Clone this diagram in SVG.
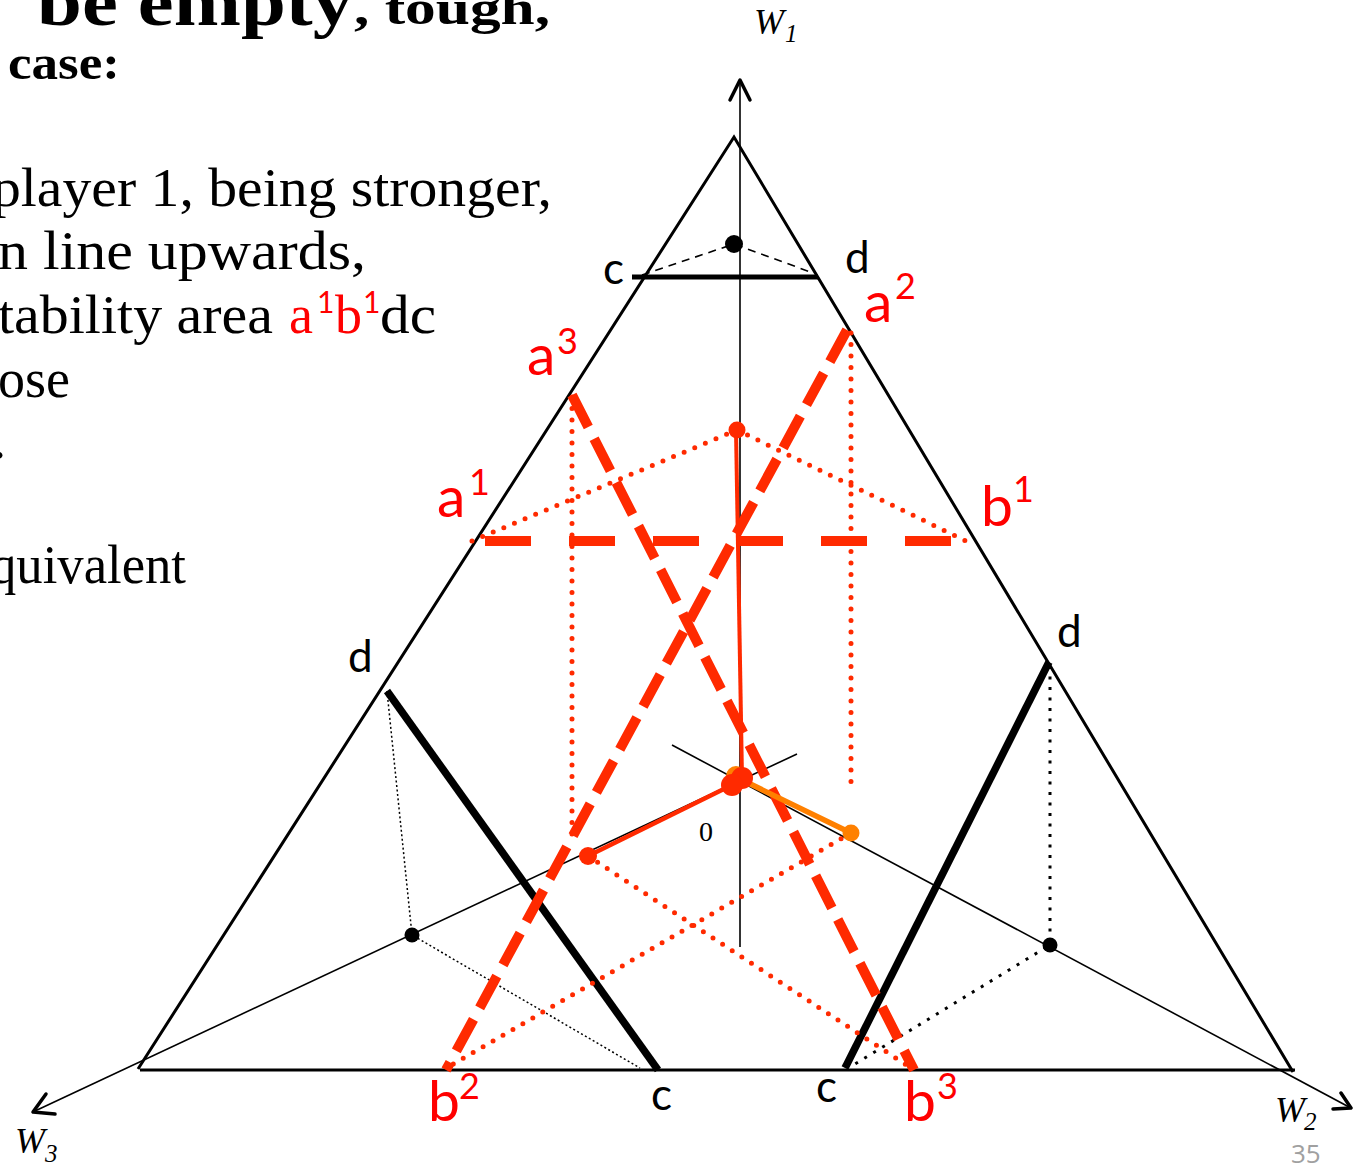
<svg xmlns="http://www.w3.org/2000/svg" width="1353" height="1165" viewBox="0 0 1353 1165">
<style>
.serif{font-family:"Liberation Serif","Times New Roman",serif;fill:#000}
.lbl{font-family:Lato,"Open Sans",sans-serif;font-size:44px;fill:#000}
.rl{font-family:Lato,"Open Sans",sans-serif;font-size:57px;fill:#ff0000}
.rs{font-family:Lato,"Open Sans",sans-serif;font-size:36px;fill:#ff0000}
.ax{font-family:"Liberation Serif","Times New Roman",serif;font-style:italic;fill:#000}
.thin{stroke:#000;stroke-width:1.6;fill:none}
.edge{stroke:#000;stroke-width:3;fill:none}
.thick{stroke:#000;stroke-width:7.5;fill:none}
.rdash{stroke:#ff2a00;stroke-width:10;fill:none}
.rdot{stroke:#ff2a00;stroke-width:5;stroke-linecap:round;stroke-dasharray:0 11.5;fill:none}
.bdotf{stroke:#000;stroke-width:1.5;stroke-dasharray:2 2.5;fill:none}
.bdot{stroke:#000;stroke-width:3;stroke-dasharray:3 7.5;fill:none}
.arrow{stroke:#000;stroke-width:3.5;fill:none;stroke-linecap:round;stroke-linejoin:round}
</style>

<g id="slide-text" class="serif">
  <text x="37" y="25" font-size="68" font-weight="bold" textLength="316" lengthAdjust="spacingAndGlyphs">be empty</text>
  <text x="354" y="24" font-size="48" font-weight="bold" textLength="196" lengthAdjust="spacingAndGlyphs">, tough,</text>
  <text x="8" y="79" font-size="48" font-weight="bold" textLength="112" lengthAdjust="spacingAndGlyphs">case:</text>
  <text x="552" y="206" font-size="54" text-anchor="end" textLength="560" lengthAdjust="spacingAndGlyphs">player 1, being stronger,</text>
  <text x="366" y="269" font-size="54" text-anchor="end" textLength="368" lengthAdjust="spacingAndGlyphs">n line upwards,</text>
  <text x="273" y="333" font-size="54" text-anchor="end" textLength="275" lengthAdjust="spacingAndGlyphs">tability area</text>
  <text x="289" y="333" font-size="54" style="fill:#ff0000">a</text>
  <text x="317" y="313" font-family="Lato,'Open Sans',sans-serif" font-size="30" style="fill:#ff0000">1</text>
  <text x="335" y="333" font-size="54" style="fill:#ff0000">b</text>
  <text x="363" y="313" font-family="Lato,'Open Sans',sans-serif" font-size="30" style="fill:#ff0000">1</text>
  <text x="380" y="333" font-size="54" textLength="56" lengthAdjust="spacingAndGlyphs">dc</text>
  <text x="70" y="397" font-size="54" text-anchor="end">ose</text>
  <text x="6" y="458" font-size="54" text-anchor="end">.</text>
  <text x="186" y="583" font-size="54" text-anchor="end" textLength="196" lengthAdjust="spacingAndGlyphs">quivalent</text>
</g>

<g id="axes">
  <line class="thin" x1="740" y1="82" x2="740" y2="947"/>
  <line class="thin" x1="797" y1="754" x2="35" y2="1111"/>
  <line class="thin" x1="672" y1="745" x2="1349" y2="1107"/>
  <path class="arrow" d="M730,100 L740,80 L750,100"/>
  <path class="arrow" d="M46,1094 L33,1112 L55,1114"/>
  <path class="arrow" d="M1341,1093 L1351,1108 L1333,1109"/>
</g>

<g id="triangle">
  <path class="edge" d="M138,1069 L734,137 L1293,1072"/>
  <line class="edge" x1="140" y1="1070" x2="1295" y2="1070"/>
</g>

<g id="black-sets">
  <line class="thick" x1="632" y1="277" x2="818" y2="277" style="stroke-width:5"/>
  <path class="thin" d="M642,275 L734,244 L813,273" stroke-dasharray="8 6"/>
  <circle cx="734" cy="244" r="9" fill="#000"/>
  <line class="thick" x1="387" y1="691" x2="658" y2="1070"/>
  <path class="bdotf" d="M387,691 L412,935 L640,1068"/>
  <circle cx="412" cy="935" r="7.5" fill="#000"/>
  <line class="thick" x1="1049" y1="662" x2="845" y2="1068"/>
  <path class="bdot" d="M1050,666 L1050,945 L850,1067"/>
  <circle cx="1050" cy="945" r="7.5" fill="#000"/>
</g>

<g id="red-construction">
  <path class="rdot" d="M472,541 L737,430 L966,541"/>
  <line class="rdot" x1="572" y1="397" x2="572" y2="845"/>
  <line class="rdot" x1="851" y1="333" x2="851" y2="790"/>
  <line class="rdot" x1="588" y1="856" x2="908" y2="1066"/>
  <line class="rdot" x1="851" y1="833" x2="450" y2="1066"/>
  <line class="rdash" x1="485" y1="541" x2="960" y2="541" stroke-dasharray="46 38"/>
  <line class="rdash" x1="572" y1="395" x2="914" y2="1070" stroke-dasharray="36 13"/>
  <line class="rdash" x1="847" y1="330" x2="446" y2="1070" stroke-dasharray="36 13"/>
  <line x1="740" y1="779" x2="851" y2="833" stroke="#ff8000" stroke-width="5.5"/>
  <circle cx="851" cy="833" r="8.5" fill="#ff8000"/>
  <circle cx="736" cy="776" r="10" fill="#ff8000"/>
  <line x1="736" y1="430" x2="742" y2="778" stroke="#ff2a00" stroke-width="4"/>
  <line x1="732" y1="785" x2="588" y2="856" stroke="#ff2a00" stroke-width="4.5"/>
  <circle cx="737" cy="430" r="8.5" fill="#ff2a00"/>
  <circle cx="742" cy="778" r="11" fill="#ff2a00"/>
  <circle cx="732" cy="785" r="11" fill="#ff2a00"/>
  <circle cx="588" cy="856" r="9" fill="#ff2a00"/>
</g>

<g id="labels">
  <text class="lbl" x="603" y="284">c</text>
  <text class="lbl" x="845" y="273">d</text>
  <text class="lbl" x="348" y="672">d</text>
  <text class="lbl" x="1057" y="647">d</text>
  <text class="lbl" x="651" y="1110">c</text>
  <text class="lbl" x="816" y="1102">c</text>
  <text x="699" y="841" font-family="'Liberation Serif',serif" font-size="28" fill="#000">0</text>

  <text class="rl" x="864" y="322">a</text><text class="rs" x="895" y="299">2</text>
  <text class="rl" x="527" y="375">a</text><text class="rs" x="557" y="354">3</text>
  <text class="rl" x="437" y="517">a</text><text class="rs" x="469" y="495">1</text>
  <text class="rl" x="981" y="526">b</text><text class="rs" x="1013" y="502">1</text>
  <text class="rl" x="428" y="1121">b</text><text class="rs" x="459" y="1099">2</text>
  <text class="rl" x="904" y="1121">b</text><text class="rs" x="937" y="1099">3</text>

  <text class="ax" x="754" y="34" font-size="36">W</text><text class="ax" x="785" y="42" font-size="25">1</text>
  <text class="ax" x="15" y="1153" font-size="36">W</text><text class="ax" x="45" y="1162" font-size="25">3</text>
  <text class="ax" x="1275" y="1122" font-size="36">W</text><text class="ax" x="1304" y="1130" font-size="25">2</text>
  <text x="1291" y="1163" font-family="'Open Sans',sans-serif" font-size="26" fill="#a0a0a0">35</text>
</g>
</svg>
